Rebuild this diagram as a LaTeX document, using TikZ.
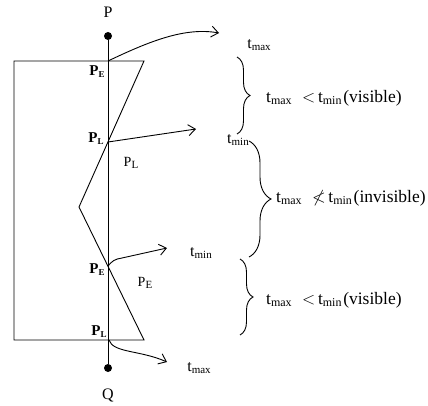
\documentclass[tikz,border=0pt]{standalone}
\usepackage{fontspec}
\usepackage{amssymb}
\setmainfont{Liberation Serif}
\usetikzlibrary{arrows.meta,decorations.pathreplacing}
\newcommand\sbx[2]{#1\raisebox{-0.3ex}{\fontsize{11}{11}\selectfont #2}}
\newcommand\sby[2]{#1\raisebox{-0.3ex}{\fontsize{12}{12}\selectfont #2}}
\newcommand\bsb[2]{\textbf{#1}\raisebox{-0.3ex}{\fontsize{9}{9}\selectfont\bfseries #2}}
\begin{document}
\begin{tikzpicture}[x=1pt,y=1pt,
  edge/.style={line width=0.9pt},
  arr/.style={line width=0.9pt,-{Straight Barb[length=7pt,width=11pt,line width=0.9pt]}},
  lbl/.style={inner sep=0pt,font=\fontsize{16}{16}\selectfont},
  cond/.style={inner sep=0pt,anchor=west,font=\fontsize{17.5}{17.5}\selectfont},
  blbl/.style={inner sep=0pt,font=\fontsize{15}{15}\selectfont},
  brc/.style={line width=0.9pt,decorate},
  dotn/.style={circle,fill=black,inner sep=0pt,minimum size=8pt}]
\useasboundingbox (0,0) rectangle (428,405);
% polygon corners
\coordinate (A) at (14,344);
\coordinate (B) at (144,344);
\coordinate (C) at (79,198);
\coordinate (D) at (144,65);
\coordinate (E) at (14,65);
\draw[edge] (A) -- (B) -- (C) -- (D) -- (E) -- cycle;
% line PQ
\node[dotn] (P) at (108,369) {};
\node[dotn] (Q) at (108,37) {};
\draw[edge] (P) -- (Q);
\node[lbl] (Plab) at (108,393) {P};
\node[lbl] (Qlab) at (108,10) {Q};
% intersection points
\coordinate (PE1) at (108,344);
\coordinate (PL1) at (108,263);
\coordinate (PE2) at (108,139);
\coordinate (PL2) at (109,65);
\node[blbl] (PE1l) at (97,333) {\bsb{P}{E}};
\node[blbl] (PL1l) at (96,266) {\bsb{P}{L}};
\node[lbl,font=\fontsize{14}{14}\selectfont] (PL1n) at (131,242) {\sbx{P}{L}};
\node[blbl] (PE2l) at (97,135) {\bsb{P}{E}};
\node[lbl,font=\fontsize{14}{14}\selectfont] (PE2n) at (145,122) {\sbx{P}{E}};
\node[blbl] (PL2l) at (99,73) {\bsb{P}{L}};
% arrow end points
\coordinate (a1) at (219,372);
\coordinate (a2) at (196,276);
\coordinate (a3) at (167,157);
\coordinate (a4) at (167,43);
\draw[arr] (PE1) .. controls (150,364) and (185,378) .. (a1);
\draw[arr] (PL1) -- (a2);
\draw[arr] (PE2) .. controls (112,144) and (115,146) .. (122,147) -- (a3);
\draw[arr] (PL2) .. controls (113,52) and (140,55) .. (a4);
% t labels
\node[lbl] (tmax1) at (259,360) {\sbx{t}{max}};
\node[lbl,anchor=east] (tmin1) at (249,265) {\sbx{t}{min}};
\node[lbl] (tmin2) at (201,152) {\sbx{t}{min}};
\node[lbl] (tmax2) at (199,37) {\sbx{t}{max}};
% braces
\draw[brc,decoration={brace,amplitude=13pt}] (237,348) -- (237,271);
\draw[brc,decoration={brace,amplitude=22pt}] (249,264) -- (249,148);
\draw[brc,decoration={brace,amplitude=13pt}] (240,146) -- (240,70);
% conditions
\node[cond] (c1) at (266,307) {\sby{t}{max}\hspace{0.6em}$<$\hspace{0.15em}\sby{t}{min}\hspace{0.1em}(visible)};
\node[cond] (c2) at (276,207) {\sby{t}{max}\hspace{0.6em}$\nless$\hspace{0.15em}\sby{t}{min}\hspace{0.1em}(invisible)};
\node[cond] (c3) at (266,105) {\sby{t}{max}\hspace{0.6em}$<$\hspace{0.15em}\sby{t}{min}\hspace{0.1em}(visible)};
\end{tikzpicture}
\end{document}
